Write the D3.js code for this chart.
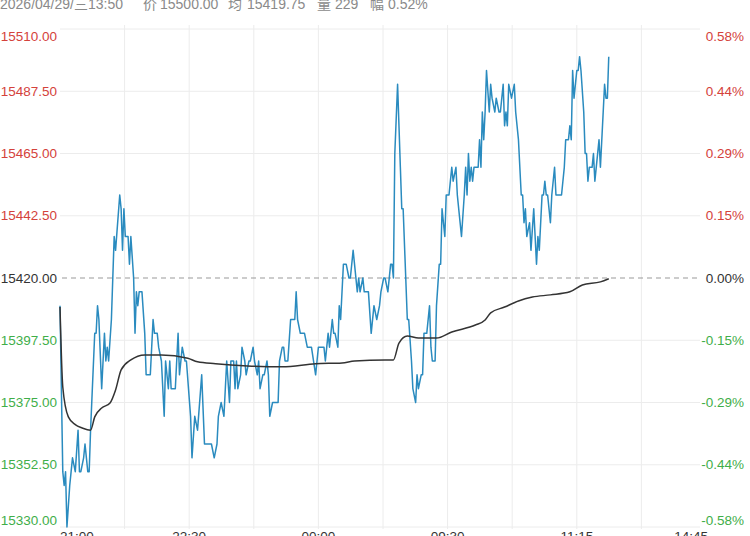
<!DOCTYPE html>
<html>
<head>
<meta charset="utf-8">
<script src="https://cdn.jsdelivr.net/npm/d3@7"></script>
<style>
  html, body { margin: 0; padding: 0; background: #fff; }
  svg { display: block; font-family: "Liberation Sans", Arial, "Noto Sans CJK SC", sans-serif; }
</style>
</head>
<body>
<svg></svg>
<script>
// header quote line, pieces and their x offsets
const headerParts = ['2026/04/29/三13:50', '价', '15500.00', '均', '15419.75', '量', '229', '幅', '0.52%'];
const headerX = [0, 143, 160, 228, 247, 317, 335, 370, 388];

const preClose = 15420;
const yTicks = [15330, 15352.5, 15375, 15397.5, 15420, 15442.5, 15465, 15487.5, 15510];
const xLabels = ['21:00', '22:30', '00:00', '09:30', '11:15', '14:45'];
const totalMinutes = 465;   // 21:00-01:00, 09:00-10:15, 10:30-11:30, 13:30-15:00

// minute index since 21:00 (trading minutes) and last price
const priceMin = [0, 2, 3, 4, 5, 7, 8, 9, 11, 13, 14, 15, 17, 18, 20, 21, 22, 25, 26, 27, 28, 30, 32, 33, 34, 35,
  37, 39, 40, 43, 44, 45, 46, 47, 49, 50, 51, 53, 54, 55, 56, 57, 59, 61, 62, 65, 67, 68, 70, 71, 73, 74, 75, 76,
  78, 79, 80, 83, 85, 86, 88, 90, 91, 94, 95, 97, 99, 102, 104, 109, 111, 113, 114, 116, 118, 120, 122, 123, 125,
  126, 127, 128, 130, 131, 133, 134, 136, 137, 139, 140, 142, 143, 144, 146, 147, 149, 150, 151, 153, 157, 158,
  160, 161, 162, 164, 166, 169, 170, 171, 173, 174, 176, 178, 181, 184, 185, 186, 190, 191, 192, 193, 194, 196,
  197, 198, 200, 201, 202, 204, 206, 208, 209, 211, 212, 214, 215, 216, 218, 219, 222, 224, 226, 228, 230, 231,
  233, 234, 236, 238, 239, 240, 241, 243, 245, 246, 247, 250, 251, 253, 254, 256, 257, 258, 260, 261, 262, 264,
  266, 267, 268, 270, 271, 273, 274, 275, 277, 278, 279, 280, 281, 282, 283, 285, 286, 288, 289, 291, 292, 293,
  294, 295, 296, 297, 298, 301, 302, 303, 304, 305, 306, 307, 309, 310, 311, 313, 314, 316, 317, 319, 320, 321,
  322, 323, 325, 327, 328, 330, 332, 333, 334, 335, 336, 338, 339, 341, 342, 343, 344, 345, 347, 348, 349, 350,
  351, 353, 354, 356, 357, 361, 363, 364, 366, 367, 368, 369, 370, 372, 373, 374, 375, 377, 378, 379, 380, 381,
  383, 384, 385, 386, 388, 389, 391, 392, 393, 394, 395];
const priceVal = [15410, 15350, 15345, 15350, 15330, 15345, 15350, 15355, 15350, 15365, 15350, 15350, 15355, 15360,
  15350, 15350, 15365, 15400, 15400, 15410, 15405, 15380, 15400, 15390, 15395, 15390,
  15405, 15435, 15430, 15450, 15445, 15430, 15445, 15435, 15435, 15425, 15435, 15420, 15400, 15415, 15410, 15415,
  15415, 15400, 15385, 15385, 15405, 15400, 15400, 15395, 15390, 15380, 15370, 15390,
  15380, 15390, 15380, 15380, 15400, 15385, 15395, 15390, 15390, 15370, 15355, 15370, 15365, 15385, 15360, 15360,
  15355, 15360, 15370, 15375, 15370, 15390, 15375, 15390, 15390,
  15380, 15390, 15380, 15385, 15395, 15390, 15385, 15390, 15390, 15395, 15390, 15385, 15390, 15380, 15385, 15385,
  15390, 15385, 15370, 15375, 15375, 15390,
  15395, 15395, 15390, 15390, 15405, 15405, 15415, 15405, 15400, 15400, 15400, 15395, 15395, 15385, 15390, 15395,
  15395, 15390, 15395, 15400, 15395, 15405,
  15400, 15400, 15395, 15410, 15405, 15425, 15425, 15420, 15420, 15430, 15425, 15415, 15420, 15415, 15420, 15415,
  15415, 15400, 15410, 15405, 15410, 15415,
  15420, 15420, 15415, 15425, 15425, 15420, 15465, 15490, 15460, 15445, 15445, 15405, 15405, 15390, 15380, 15375,
  15385, 15380, 15385, 15385, 15400, 15400,
  15410, 15395, 15390, 15390, 15410, 15425, 15425, 15445, 15435, 15450, 15450, 15450, 15455, 15460, 15455, 15460,
  15450, 15440, 15435, 15450, 15460, 15450,
  15465, 15455, 15460, 15455, 15460, 15460, 15470, 15460, 15480, 15470, 15480, 15495, 15480, 15490, 15485, 15480,
  15485, 15480, 15480, 15490, 15475, 15480,
  15475, 15490, 15485, 15490, 15480, 15470, 15450, 15450, 15440, 15445, 15435, 15440, 15430, 15445, 15435, 15425,
  15435, 15430, 15450, 15450, 15455, 15450,
  15450, 15440, 15450, 15460, 15450, 15450, 15460, 15470, 15470, 15475, 15470, 15495, 15485, 15495, 15495, 15500,
  15495, 15480, 15465, 15465, 15455, 15460,
  15460, 15465, 15455, 15460, 15470, 15460, 15480, 15490, 15485, 15485, 15500];

// running average price
const avgMin = [0, 2, 6, 11, 16, 22, 25, 30, 36, 40, 44, 51, 61, 73, 92, 99, 112, 135, 160, 184, 203, 212, 234,
  240, 244, 250, 258, 271, 282, 299, 306, 310, 320, 330, 340, 353, 367, 376, 389, 395];
const avgVal = [15409.5, 15380.6, 15369.8, 15367, 15365.8, 15365, 15369.8, 15373, 15374.8, 15379.5, 15386.8,
  15390.4, 15392.2, 15392.2, 15391, 15389.7, 15389, 15388.2, 15387.9, 15389, 15389.3, 15390, 15390.4, 15390.4,
  15396.5, 15399, 15398.3, 15398.3, 15400.5, 15403, 15404.8, 15407.4, 15409.5, 15411.7, 15413.1, 15413.9, 15415,
  15417.5, 15418.6, 15419.75];

const W = 750,
      H = 536,
      plotLeft = 60,
      plotRight = 706,
      plotTop = 29,
      plotBottom = 527;

const red = '#d4423b',
      green = '#3fae49',
      grid = '#ececec';

const svg = d3.select('svg')
  .attr('width', W)
  .attr('height', H);

const x = d3.scaleLinear().domain([0, totalMinutes]).range([plotLeft, plotRight]);
const y = d3.scaleLinear().domain([15330, 15510]).range([plotBottom, plotTop]);

const tickColor = v => v > preClose ? red : (v < preClose ? green : '#333');

// header (partly cut off at the top like the screenshot)
svg.append('text')
  .attr('y', 9)
  .attr('fill', '#8a8a8a')
  .style('font-size', '14px')
  .selectAll('tspan')
  .data(headerParts)
  .enter().append('tspan')
  .attr('x', (d, i) => headerX[i])
  .text(d => d);

// vertical grid
svg.append('g')
  .selectAll('line')
  .data(d3.range(1, 10))
  .enter().append('line')
  .attr('x1', d => x(d * totalMinutes / 10))
  .attr('x2', d => x(d * totalMinutes / 10))
  .attr('y1', plotTop - 4)
  .attr('y2', plotBottom + 2)
  .attr('stroke', grid)
  .attr('stroke-width', 1);

// horizontal grid
svg.append('g')
  .selectAll('line')
  .data(yTicks.filter(d => d !== preClose))
  .enter().append('line')
  .attr('x1', plotLeft)
  .attr('x2', 700)
  .attr('y1', d => y(d))
  .attr('y2', d => y(d))
  .attr('stroke', grid)
  .attr('stroke-width', 1);

// pre-close dashed line
svg.append('line')
  .attr('x1', plotLeft + 2)
  .attr('x2', 700)
  .attr('y1', y(preClose))
  .attr('y2', y(preClose))
  .attr('stroke', '#999')
  .attr('stroke-width', 1)
  .attr('stroke-dasharray', '5,4');

// top and bottom labels are nudged inside the plot
const labelY = (d, i) => i === 0 ? y(d) - 7 : (i === yTicks.length - 1 ? y(d) + 7 : y(d));

// left price labels
svg.append('g')
  .selectAll('text')
  .data(yTicks)
  .enter().append('text')
  .attr('x', 57)
  .attr('y', labelY)
  .attr('text-anchor', 'end')
  .attr('dominant-baseline', 'central')
  .attr('fill', tickColor)
  .style('font-size', '13.5px')
  .text(d => d.toFixed(2));

// right percent labels
svg.append('g')
  .selectAll('text')
  .data(yTicks)
  .enter().append('text')
  .attr('x', 744)
  .attr('y', labelY)
  .attr('text-anchor', 'end')
  .attr('dominant-baseline', 'central')
  .attr('fill', tickColor)
  .style('font-size', '13.5px')
  .text(d => ((d - preClose) / preClose * 100).toFixed(2) + '%');

// time labels (cut off at the bottom edge, as in the screenshot)
svg.append('g')
  .selectAll('text')
  .data(xLabels)
  .enter().append('text')
  .attr('x', (d, i) => x(i * totalMinutes / (xLabels.length - 1)) + (i === xLabels.length - 1 ? 2 : 0))
  .attr('y', 541)
  .attr('text-anchor', (d, i) => i === 0 ? 'start' : (i === xLabels.length - 1 ? 'end' : 'middle'))
  .attr('fill', '#333')
  .style('font-size', '13.5px')
  .text(d => d);

// price line
const priceLine = d3.line()
  .x(d => x(d[0]))
  .y(d => y(d[1]));

svg.append('path')
  .datum(d3.zip(priceMin, priceVal))
  .attr('fill', 'none')
  .attr('stroke', '#2a8bbf')
  .attr('stroke-width', 1.5)
  .attr('stroke-linejoin', 'round')
  .attr('d', priceLine);

// average line
const avgLine = d3.line()
  .x(d => x(d[0]))
  .y(d => y(d[1]))
  .curve(d3.curveMonotoneX);

svg.append('path')
  .datum(d3.zip(avgMin, avgVal))
  .attr('fill', 'none')
  .attr('stroke', '#333')
  .attr('stroke-width', 1.5)
  .attr('d', avgLine);
</script>
</body>
</html>
